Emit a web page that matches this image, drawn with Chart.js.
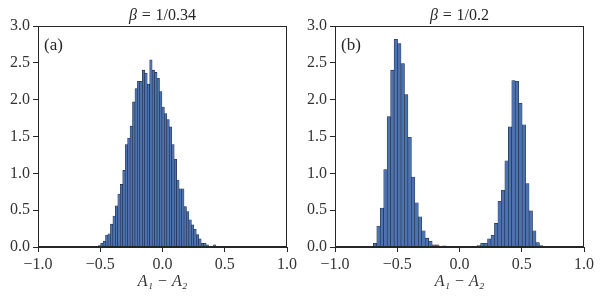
<!DOCTYPE html>
<html><head><meta charset="utf-8">
<script src="https://cdn.jsdelivr.net/npm/chart.js@4"></script>
<style>
html,body{margin:0;padding:0;background:#fff;}
#wrap{position:relative;width:600px;height:300px;overflow:hidden;}
.c{position:absolute;top:0;width:300px;height:300px;}
</style></head><body>
<div id="wrap">
<div class="c" style="left:0"><canvas id="ca" width="300" height="300"></canvas></div>
<div class="c" style="left:300px"><canvas id="cb" width="300" height="300"></canvas></div>
</div>
<script>
// ---- data ----
const leftBinStart = -0.556;
const leftBinWidth = 0.0197;
const leftValues = [0.01,0.01,0.02,0.05,0.08,0.16,0.18,0.31,0.42,0.56,
  0.72,0.85,1.04,1.39,1.48,1.64,1.97,2.15,2.25,2.25,
  2.40,2.36,2.21,2.54,2.40,2.37,2.29,2.11,1.90,1.81,
  1.73,1.63,1.39,1.19,0.91,0.79,0.79,0.55,0.48,0.37,
  0.30,0.24,0.17,0.11,0.05,0.05,0.03,0.01,0.00,0.03];
const rightBinStart = -0.72;
const rightBinWidth = 0.0278;
const rightValues = [0.01,0.05,0.285,0.53,1.05,1.77,2.40,2.82,2.76,2.49,
  2.07,1.49,0.95,0.60,0.41,0.22,0.12,0.08,0.03,0.03,
  0.01,0.015,0.005,0.005,0.01,0.01,0.005,0.005,0.005,0.01,
  0.01,0.02,0.05,0.05,0.11,0.16,0.32,0.62,0.77,1.17,
  1.63,2.26,2.25,1.95,1.66,0.86,0.49,0.22,0.06,0.02];
const xTickValues = [-1.0,-0.5,0.0,0.5,1.0];
const yTickValues = [0.0,0.5,1.0,1.5,2.0,2.5,3.0];
const betaTexts = ['1/0.34','1/0.2'];
const panelLabels = ['(a)','(b)'];
const xAxisLabel = 'A\u2081 \u2212 A\u2082';

const SERIF = '"Liberation Serif", "DejaVu Serif", serif';
const fmt = v => (v < 0 ? '\u2212' : '') + Math.abs(v).toFixed(1);

function toPoints(start, width, vals){
  return vals.map((v,i)=>({x: start + width*(i+0.5), y: v}));
}

const framePlugin = {
  id:'frame',
  afterDraw(chart, args, opts){
    const {ctx, chartArea:a} = chart;
    ctx.save();
    ctx.strokeStyle = '#262626';
    ctx.lineWidth = 1;
    ctx.strokeRect(Math.round(a.left)+0.5, Math.round(a.top)+0.5,
                   Math.round(a.right-a.left)-1, Math.round(a.bottom-a.top)-1);
    // title: italic beta, '=', value with math spacing
    const fs = 16;
    const gap = fs*0.3;
    ctx.fillStyle = '#262626';
    ctx.textBaseline = 'alphabetic';
    ctx.textAlign = 'left';
    ctx.font = 'italic ' + fs + 'px ' + SERIF;
    const w1 = ctx.measureText('\u03B2').width;
    ctx.font = fs + 'px ' + SERIF;
    const w2 = ctx.measureText('=').width;
    const w3 = ctx.measureText(opts.beta).width;
    const total = w1 + gap + w2 + gap + w3;
    const cx = (a.left + a.right)/2;
    let x0 = cx - total/2;
    const yb = a.top - 6;
    ctx.font = 'italic ' + fs + 'px ' + SERIF;
    ctx.fillText('\u03B2', x0, yb);
    ctx.font = fs + 'px ' + SERIF;
    ctx.fillText('=', x0 + w1 + gap, yb);
    ctx.fillText(opts.beta, x0 + w1 + gap + w2 + gap, yb);
    // panel label
    ctx.font = '17px ' + SERIF;
    ctx.fillText(opts.label, a.left + 6, a.top + 24);
    ctx.restore();
  }
};

function makeChart(id, start, width, vals, yWidth, padRight, beta, label){
  return new Chart(document.getElementById(id), {
    type:'bar',
    data:{datasets:[{
      data: toPoints(start, width, vals),
      backgroundColor:'#4c72b0',
      borderColor:'#1f2a44',
      borderWidth:0.6,
      borderSkipped:false,
      barPercentage:1.0,
      categoryPercentage:1.0,
      grouped:false
    }]},
    options:{
      responsive:false,
      animation:false,
      devicePixelRatio:1,
      layout:{padding:{top:26,right:padRight,left:0,bottom:0}},
      plugins:{legend:{display:false},tooltip:{enabled:false},
        frame:{beta:beta,label:label}},
      scales:{
        x:{type:'linear',min:-1,max:1,offset:false,
          afterBuildTicks(s){ s.ticks = xTickValues.map(v=>({value:v})); },
          afterFit(s){ s.height = 53; },
          grid:{display:true,drawOnChartArea:false,drawTicks:true,tickLength:5,color:'#262626',offset:false},
          border:{display:true,color:'#262626'},
          ticks:{padding:3,color:'#333',font:{family:SERIF,size:16},callback:v=>fmt(v),maxRotation:0,autoSkip:false},
          title:{display:true,text:xAxisLabel,color:'#333',font:{family:SERIF,size:16,style:'italic'},padding:{top:0,bottom:9}}
        },
        y:{type:'linear',min:0,max:3,
          afterBuildTicks(s){ s.ticks = yTickValues.map(v=>({value:v})); },
          afterFit(s){ s.width = yWidth; },
          grid:{display:true,drawOnChartArea:false,drawTicks:true,tickLength:5,color:'#262626'},
          border:{display:true,color:'#262626'},
          ticks:{padding:3,color:'#333',font:{family:SERIF,size:16},callback:v=>fmt(v)}
        }
      }
    },
    plugins:[framePlugin]
  });
}

makeChart('ca', leftBinStart, leftBinWidth, leftValues, 38, 13, betaTexts[0], panelLabels[0]);
makeChart('cb', rightBinStart, rightBinWidth, rightValues, 35, 16, betaTexts[1], panelLabels[1]);
</script>
</body></html>
